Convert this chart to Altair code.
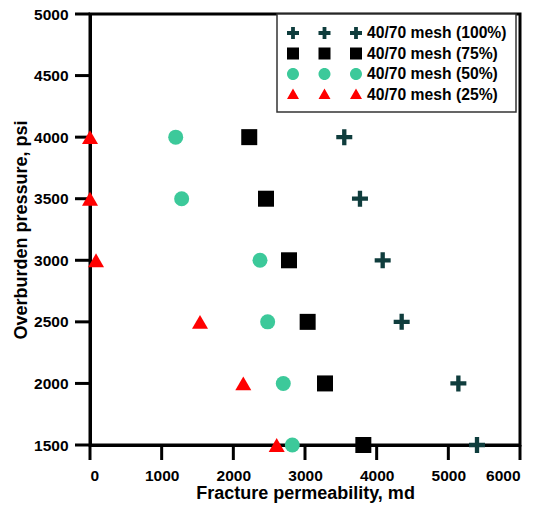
import altair as alt
import pandas as pd

pressure = [4000, 3500, 3000, 2500, 2000, 1500]
perm_100 = [3548, 3767, 4084, 4349, 5140, 5400]
perm_75 = [2222, 2456, 2777, 3037, 3279, 3814]
perm_50 = [1196, 1279, 2372, 2479, 2697, 2823]
perm_25 = [0, 0, 84, 1535, 2139, 2605]

series = ["40/70 mesh (100%)", "40/70 mesh (75%)", "40/70 mesh (50%)", "40/70 mesh (25%)"]
colors = ["#0f3d3d", "#000000", "#3cc99a", "#ff0000"]
x_ticks = [0, 1000, 2000, 3000, 4000, 5000, 6000]
y_ticks = [1500, 2000, 2500, 3000, 3500, 4000, 4500, 5000]
x_domain = [0, 6000]
y_domain = [1500, 5000]

W, H = 430, 431
TICK = 15

# one shared table: data points plus the axis tick positions
rows = []
for name, vals in zip(series, [perm_100, perm_75, perm_50, perm_25]):
    for p, k in zip(pressure, vals):
        rows.append({"kind": "point", "series": name, "perm": k, "pressure": p})
for t in x_ticks:
    rows.append({"kind": "xtick", "series": "", "perm": t, "pressure": y_domain[0]})
for t in y_ticks:
    rows.append({"kind": "ytick", "series": "", "perm": x_domain[0], "pressure": t})
df = pd.DataFrame(rows)

FONT = "Liberation Sans"

plus_path = ("M-1,-0.27L-0.27,-0.27L-0.27,-1L0.27,-1L0.27,-0.27L1,-0.27L1,0.27"
             "L0.27,0.27L0.27,1L-0.27,1L-0.27,0.27L-1,0.27Z")
# outward tick shapes (unit = half symbol width); 3 px thick when r = 15 px
ytick_path = "M-1,-0.1L0,-0.1L0,0.1L-1,0.1Z"
xtick_path = "M-0.1,0L0.1,0L0.1,1L-0.1,1Z"


def triple(kind):
    # legend symbol: three markers in a row, in units of a 20 px symbol (r = 10 px)
    h = 0.6
    out = []
    for cx in (-3.15, 0.0, 3.15):
        if kind == "plus":
            t = 0.19
            out.append(
                f"M{cx-h:.3f},{-t:.3f}L{cx-t:.3f},{-t:.3f}L{cx-t:.3f},{-h:.3f}L{cx+t:.3f},{-h:.3f}"
                f"L{cx+t:.3f},{-t:.3f}L{cx+h:.3f},{-t:.3f}L{cx+h:.3f},{t:.3f}L{cx+t:.3f},{t:.3f}"
                f"L{cx+t:.3f},{h:.3f}L{cx-t:.3f},{h:.3f}L{cx-t:.3f},{t:.3f}L{cx-h:.3f},{t:.3f}Z")
        elif kind == "square":
            out.append(f"M{cx-h:.3f},{-h:.3f}L{cx+h:.3f},{-h:.3f}L{cx+h:.3f},{h:.3f}L{cx-h:.3f},{h:.3f}Z")
        elif kind == "circle":
            out.append(f"M{cx-h:.3f},0A{h},{h} 0 1 0 {cx+h:.3f},0A{h},{h} 0 1 0 {cx-h:.3f},0Z")
        else:
            out.append(f"M{cx:.3f},{-h:.3f}L{cx+h:.3f},{h*0.75:.3f}L{cx-h:.3f},{h*0.75:.3f}Z")
    return "".join(out)


legend_shapes = [triple("plus"), triple("square"), triple("circle"), triple("triangle")]

axis_style = dict(grid=False, domain=True, ticks=False, domainColor="black", domainWidth=3,
                  labelFont=FONT, labelFontSize=15.5, labelFontWeight="bold",
                  labelColor="black", titleFont=FONT, titleFontSize=18,
                  titleFontWeight="bold", titleColor="black", format="d")

xscale = alt.Scale(domain=x_domain, nice=False)
yscale = alt.Scale(domain=y_domain, nice=False, zero=False)
x_enc = alt.X("perm:Q", scale=xscale,
              axis=alt.Axis(values=x_ticks, title="Fracture permeability, md",
                            labelPadding=TICK + 8, titlePadding=1, **axis_style))
y_enc = alt.Y("pressure:Q", scale=yscale,
              axis=alt.Axis(values=y_ticks, title="Overburden pressure, psi",
                            labelPadding=TICK + 7, titlePadding=3, **axis_style))

base = alt.Chart(df)

xtick_layer = base.transform_filter(alt.datum.kind == "xtick").mark_point(
    shape=xtick_path, filled=True, color="black", size=(2 * TICK) ** 2, opacity=1,
    clip=False).encode(x=x_enc, y=y_enc)
ytick_layer = base.transform_filter(alt.datum.kind == "ytick").mark_point(
    shape=ytick_path, filled=True, color="black", size=(2 * TICK) ** 2, opacity=1,
    clip=False).encode(x=x_enc, y=y_enc)

shapes = [plus_path, "square", "circle", "triangle-up"]
sizes = [256, 256, 225, 256]

layers = []
for name, shp, col, sz in zip(series, shapes, colors, sizes):
    layers.append(
        base.transform_filter(alt.datum.series == name)
        .mark_point(shape=shp, filled=True, color=col, size=sz, opacity=1, clip=False)
        .encode(x=x_enc, y=y_enc)
    )

# legend-only layer (no rows drawn): its colour and shape scales build the legend
legend_layer = base.transform_filter(alt.datum.perm < 0).mark_point(
    filled=True, opacity=1).encode(
    x=x_enc, y=y_enc,
    color=alt.Color("series:N", scale=alt.Scale(domain=series, range=colors),
                    legend=alt.Legend(title=None, orient="none", legendX=187, legendY=0,
                                      symbolSize=400, symbolOffset=28.5, labelOffset=32.5,
                                      rowPadding=2.5, symbolOpacity=1, symbolStrokeWidth=0,
                                      padding=9)),
    shape=alt.Shape("series:N", scale=alt.Scale(domain=series, range=legend_shapes)),
)

chart = alt.layer(xtick_layer, ytick_layer, *layers, legend_layer).properties(
    width=W, height=H,
    autosize=alt.AutoSizeParams(type="none"),
    padding={"left": 90, "top": 14, "right": 27, "bottom": 61},
).configure_view(
    stroke="black", strokeWidth=3
).configure_legend(
    labelFont=FONT, labelFontSize=15.7, labelFontWeight="bold", labelColor="black",
    fillColor="white", strokeColor="#333333", strokeWidth=1.5, cornerRadius=0,
    labelLimit=300,
)

chart.save("out.html", embed_options={"renderer": "svg", "actions": False})
